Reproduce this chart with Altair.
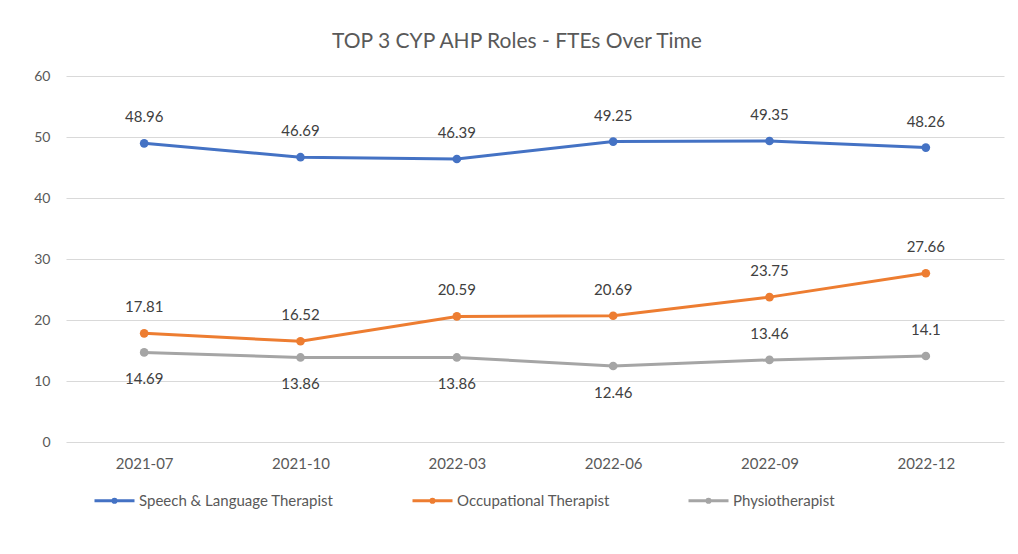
import altair as alt
import pandas as pd

periods = ["2021-07", "2021-10", "2022-03", "2022-06", "2022-09", "2022-12"]
series_names = ["Speech & Language Therapist", "Occupational Therapist", "Physiotherapist"]
speech = [48.96, 46.69, 46.39, 49.25, 49.35, 48.26]
occupational = [17.81, 16.52, 20.59, 20.69, 23.75, 27.66]
physio = [14.69, 13.86, 13.86, 12.46, 13.46, 14.1]
physio_label_side = ["below", "below", "below", "below", "above", "above"]
colors = ["#4472C4", "#ED7D31", "#A5A5A5"]

rows = []
for name, vals, sides in [
    (series_names[0], speech, ["above"] * 6),
    (series_names[1], occupational, ["above"] * 6),
    (series_names[2], physio, physio_label_side),
]:
    for p, v, s in zip(periods, vals, sides):
        rows.append({"period": p, "series": name, "value": v, "label": f"{v:g}", "side": s})
df = pd.DataFrame(rows)

FONT = "Lato"

x_enc = alt.X("period:N", sort=periods, title=None,
              axis=alt.Axis(labelAngle=0, domain=False, ticks=False, grid=False,
                            labelPadding=14, labelFontSize=15, labelColor="#595959", labelFont=FONT))
y_enc = alt.Y("value:Q", title=None, scale=alt.Scale(domain=[0, 60], nice=False),
              axis=alt.Axis(values=[0, 10, 20, 30, 40, 50, 60], domain=False, ticks=False,
                            grid=True, gridColor="#D9D9D9", gridWidth=1, labelPadding=16,
                            labelFontSize=14, labelColor="#595959", labelFont=FONT))

lines = alt.Chart(df).mark_line(strokeWidth=3, point=alt.OverlayMarkDef(filled=True, size=75)).encode(
    x=x_enc, y=y_enc,
    color=alt.Color("series:N", sort=series_names,
                    scale=alt.Scale(domain=series_names, range=colors),
                    legend=alt.Legend(orient="none", legendX=27, legendY=403, direction="horizontal",
                                      title=None,
                                      symbolType="M-1,0L1,0M-0.08,0A0.08,0.08 0 1,0 0.08,0A0.08,0.08 0 1,0 -0.08,0",
                                      symbolSize=1600, symbolStrokeWidth=3, labelFontSize=15,
                                      labelColor="#595959", labelFont=FONT, columnPadding=72,
                                      labelOffset=3, labelLimit=0)),
)

text_base = alt.Chart(df).encode(
    x=alt.X("period:N", sort=periods),
    y=alt.Y("value:Q"),
    text="label:N",
)
labels_above = text_base.transform_filter(alt.datum.side == "above").mark_text(
    dy=-26, fontSize=15, color="#404040", font=FONT)
labels_below = text_base.transform_filter(alt.datum.side == "below").mark_text(
    dy=27, fontSize=15, color="#404040", font=FONT)

chart = alt.layer(lines, labels_above, labels_below).properties(
    width=938, height=366,
    title=alt.Title("TOP 3 CYP AHP Roles - FTEs Over Time", fontSize=21, font=FONT,
                    color="#595959", fontWeight="normal", anchor="middle", dx=-18, offset=17),
    autosize=alt.AutoSizeParams(type="none"),
    padding={"left": 58, "top": 68, "right": 6, "bottom": 104},
    background="white",
).configure_view(stroke=None)

chart.save("out.html", embed_options={"renderer": "svg", "actions": False})
